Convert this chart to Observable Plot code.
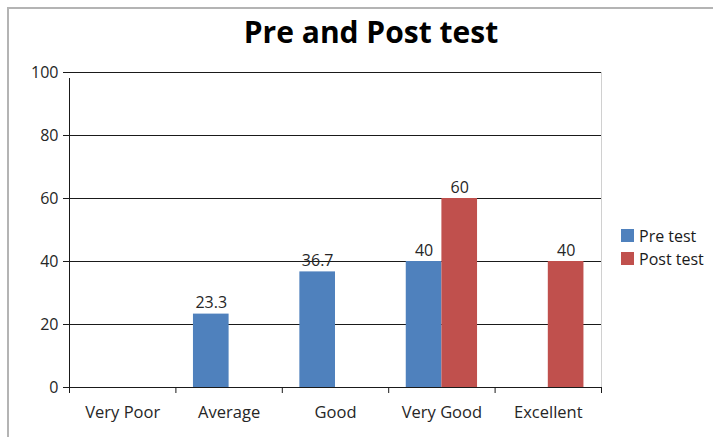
<!DOCTYPE html>
<html><head><meta charset="utf-8">
<script src="https://cdn.jsdelivr.net/npm/d3@7"></script>
<script src="https://cdn.jsdelivr.net/npm/@observablehq/plot@0.6"></script>
<style>
body{margin:0;background:#fff;}
#wrap{position:relative;width:713px;height:437px;overflow:hidden;font-family:"Open Sans",sans-serif;}
#border{position:absolute;left:7px;top:7px;width:800px;height:500px;border-left:2px solid #b4b4b4;border-top:2px solid #b4b4b4;}
#title{position:absolute;left:0;width:742px;top:11px;text-align:center;font-weight:bold;font-size:30px;line-height:42px;color:#000;}
#legend{position:absolute;left:621px;top:224px;font-size:16px;color:#1a1a1a;}
.item{display:flex;align-items:center;height:23px;}
.sw{width:13px;height:13px;margin-right:5px;}
#wrap svg{position:absolute;left:0;top:0;}
</style></head><body>
<div id="wrap"><div id="border"></div><div id="title">Pre and Post test</div><div id="legend"></div></div>
<script>
const categories = ["Very Poor", "Average", "Good", "Very Good", "Excellent"];
const series = ["Pre test", "Post test"];
const preTest = [null, 23.3, 36.7, 40, null];
const postTest = [null, null, null, 60, 40];
const colors = ["#4F81BD", "#C0504D"];
const yTicks = [0, 20, 40, 60, 80, 100];

const values = [preTest, postTest];
const rows = categories.flatMap((c, i) => series.map((s, k) => ({cat: c, i, k, series: s, value: values[k][i]})))
  .filter(d => d.value != null);

// group layout within a category slot (like band padding)
const outer = 0.165, slot = 0.335;
const x1 = d => d.i + outer + d.k * slot;
const x2 = d => d.i + outer + (d.k + 1) * slot;
const xc = d => d.i + outer + (d.k + 0.5) * slot;

const plot = Plot.plot({
  width: 713, height: 437,
  marginLeft: 69, marginRight: 112, marginTop: 72, marginBottom: 50,
  style: {fontFamily: "'Open Sans', sans-serif", fontSize: "16px", color: "#1a1a1a", background: "transparent", overflow: "visible"},
  x: {domain: [0, categories.length], axis: null},
  y: {domain: [0, 100], axis: null},
  color: {domain: series, range: colors},
  marks: [
    Plot.ruleX([categories.length], {y1: 0, y2: 100, stroke: "#d0d0d0", strokeWidth: 1}),
    Plot.ruleY(yTicks, {stroke: "#1a1a1a"}),
    Plot.rectY(rows, {x1, x2, y: "value", fill: "series"}),
    Plot.ruleX([0], {y1: 0, y2: 100, insetBottom: -6, stroke: "#1a1a1a"}),
    Plot.axisY({ticks: yTicks, label: null, tickSize: 6, tickPadding: 5, fontSize: 16, stroke: "#1a1a1a", fill: "#262626"}),
    Plot.axisX({ticks: d3.range(categories.length + 1), label: null, tickSize: 6, tickFormat: () => "", stroke: "#1a1a1a"}),
    Plot.text(categories, {x: (d, i) => i + 0.5, frameAnchor: "bottom", dy: 30, fontSize: 16.5, fill: "#262626"}),
    Plot.text(rows, {x: xc, y: "value", text: d => String(d.value), dy: -11, fontSize: 16, fill: "#262626"})
  ]
});
document.getElementById("wrap").appendChild(plot);

const legend = document.getElementById("legend");
series.forEach((s, k) => {
  const it = document.createElement("div"); it.className = "item";
  const sw = document.createElement("div"); sw.className = "sw"; sw.style.background = colors[k];
  const t = document.createElement("span"); t.textContent = s;
  it.appendChild(sw); it.appendChild(t); legend.appendChild(it);
});
</script>
</body></html>
